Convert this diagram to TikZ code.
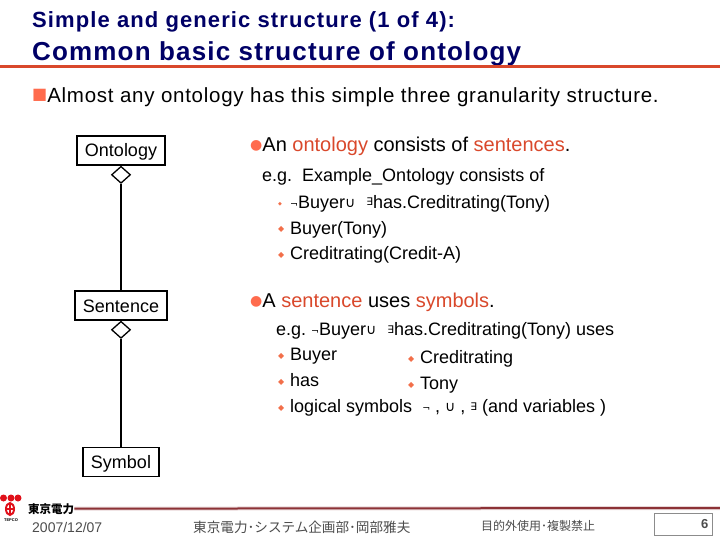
\documentclass[tikz,border=0pt]{standalone}
\usepackage{xcolor}
\usepackage{fontspec}
\setmainfont{Liberation Sans}
\newfontfamily\symfont{DejaVu Sans}
\newfontfamily\cjkfont{Noto Sans CJK JP}
\usetikzlibrary{positioning,shapes.geometric}
\definecolor{titleblue}{HTML}{000066}
\definecolor{accentred}{HTML}{D9482B}
\definecolor{bulletred}{HTML}{FF6B4D}
\definecolor{footerred}{HTML}{8C3236}
\definecolor{logored}{HTML}{E0101A}
\newcommand{\ored}[1]{\textcolor{accentred}{#1}}
\newcommand{\logsym}[1]{\raisebox{1pt}{\symfont\fontsize{9.5}{9.5}\selectfont #1}}
\newcommand{\unionsym}{\raisebox{0.5pt}{\symfont\fontsize{14}{14}\selectfont ∪}}
\newcommand{\existsym}{\raisebox{2pt}{\symfont\fontsize{10.5}{10.5}\selectfont ∃}}
\newcommand{\diabullet}[1][8]{\makebox[12pt][l]{\raisebox{2pt}{\textcolor{bulletred!80!brown}{\symfont\fontsize{#1}{#1}\selectfont ◆}}}}
\tikzset{
    classbox/.style = {draw,line width=1.3pt,minimum height=29pt,inner sep=0pt,text height=13pt,text depth=0pt,font=\fontsize{18}{18}\selectfont},
    aggregate/.style = {diamond,draw,line width=1.3pt,fill=white,minimum width=19pt,minimum height=17pt,inner sep=0pt},
    textline/.style = {anchor=base west,inner sep=0pt,font=\fontsize{16.5}{16.5}\selectfont},
    bodyline/.style = {textline,font=\fontsize{20}{20}\selectfont},
    headline/.style = {textline,font=\fontsize{18}{18}\selectfont},
    footnote/.style = {anchor=base west,inner sep=0pt,text=black!70}
}
\begin{document}
\begin{tikzpicture}[x=1pt,y=-1pt]
    \useasboundingbox (0,0) rectangle (720,540);
    % title
    \node (title1) at (32,28) [textline,text=titleblue,font=\fontsize{22}{22}\bfseries\addfontfeature{LetterSpace=5}\selectfont] {Simple and generic structure (1 of 4):};
    \node (title2) at (32,61) [textline,text=titleblue,font=\fontsize{26}{26}\bfseries\addfontfeature{LetterSpace=4.5}\selectfont] {Common basic structure of ontology};
    \draw [accentred,line width=3pt] (0,66.5) -- (720,66.5);
    \node (intro) at (32,103) [bodyline,font=\fontsize{20.5}{20.5}\addfontfeature{LetterSpace=3.6}\selectfont] {\textcolor{bulletred}{\symfont\fontsize{16}{16}\selectfont\raisebox{3pt}{■}}Almost any ontology has this simple three granularity structure.};
    % class boxes
    \node (ontology) at (121,150.5) [classbox,minimum width=88pt] {Ontology};
    \node (sentence) at (121,305.5) [classbox,minimum width=92pt] {Sentence};
    \node (symbol) at (121,462) [classbox,minimum width=76pt] {Symbol};
    \node (dia1) [aggregate,below=0pt of ontology] {};
    \node (dia2) [aggregate,below=0pt of sentence] {};
    \draw [line width=1.3pt] (dia1) -- (sentence);
    \draw [line width=1.3pt] (dia2) -- (symbol);
    % first block
    \node (s1) at (250,152) [bodyline] {\textcolor{bulletred}{\symfont\fontsize{14}{14}\selectfont\raisebox{2pt}{●}}An \ored{ontology} consists of \ored{sentences}.};
    \node (s1eg) at (262,182) [headline] {e.g.\ \ Example\_Ontology consists of};
    \node (s1a) at (278,208) [headline] {\diabullet[5]\logsym{¬}Buyer\unionsym\kern6pt\ \existsym has.Creditrating(Tony)};
    \node (s1b) at (278,234) [headline] {\diabullet Buyer(Tony)};
    \node (s1c) at (278,259) [headline] {\diabullet Creditrating(Credit-A)};
    % second block
    \node (s2) at (250,307) [bodyline] {\textcolor{bulletred}{\symfont\fontsize{14}{14}\selectfont\raisebox{2pt}{●}}A \ored{sentence} uses \ored{symbols}.};
    \node (s2eg) at (276,335) [headline] {e.g.\ \logsym{¬}Buyer\unionsym\kern6pt\ \existsym has.Creditrating(Tony) uses};
    \node (s2a) at (278,360) [headline] {\diabullet Buyer};
    \node (s2b) at (278,386) [headline] {\diabullet has};
    \node (s2c) at (278,412) [headline] {\diabullet logical symbols\ \ \logsym{¬} , \unionsym\ , \existsym\ (and variables )};
    \node (s2d) at (408,363) [headline] {\diabullet Creditrating};
    \node (s2e) at (408,389) [headline] {\diabullet Tony};
    % footer
    \foreach \cx in {3.5,11,18} \fill [logored] (\cx,498) circle (3.5pt);
    \draw [logored,line width=2pt] (10,509) ellipse (4pt and 6pt);
    \draw [logored,line width=1.2pt] (10,503) -- (10,515) (6,509) -- (14,509);
    \node (tepco) at (11,520) [inner sep=0pt,font=\fontsize{4}{4}\bfseries\selectfont] {TEPCO};
    \node (company) at (28,513) [anchor=base west,inner sep=0pt,font=\fontsize{11.5}{11.5}\cjkfont\bfseries\selectfont] {東京電力};
    \draw [footerred!20,line width=4pt] (company.east) -- (720,508);
    \draw [footerred,line width=2pt] (company.east) -- (720,508);
    \node (date) at (32,532) [footnote,font=\fontsize{14}{14}\selectfont] {2007/12/07};
    \node (dept) at (193,532) [footnote,font=\fontsize{13.6}{13.6}\cjkfont\selectfont] {東京電力･システム企画部･岡部雅夫};
    \node (notice) at (481,530) [footnote,font=\fontsize{12}{12}\cjkfont\selectfont] {目的外使用･複製禁止};
    \node (page) at (654,513) [draw=black!45,line width=0.8pt,anchor=north west,minimum width=58pt,minimum height=22pt,inner sep=0pt,text=black!70,font=\fontsize{13}{13}\bfseries\selectfont,align=right,text width=50pt] {6};
\end{tikzpicture}
\end{document}
